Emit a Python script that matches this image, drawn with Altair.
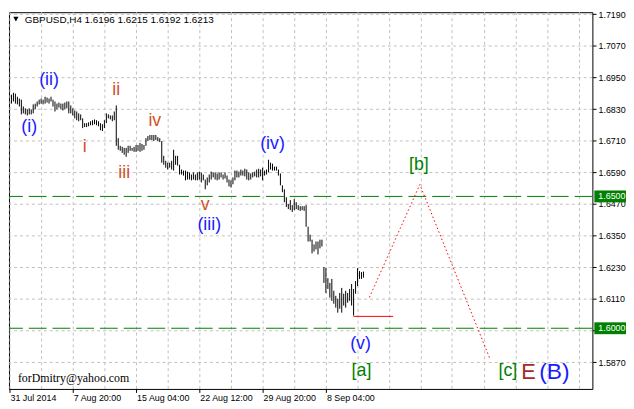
import altair as alt
import pandas as pd

# ---------------- data (GBPUSD, H4) ----------------
highs = [
    1.6886, 1.6893, 1.6890, 1.6878, 1.6871, 1.6867, 1.6841, 1.6834, 1.6830, 1.6834,
    1.6830, 1.6849, 1.6852, 1.6860, 1.6867, 1.6871, 1.6867, 1.6878, 1.6875, 1.6871,
    1.6878, 1.6867, 1.6860, 1.6852, 1.6856, 1.6852, 1.6852, 1.6856, 1.6860, 1.6860,
    1.6845, 1.6834, 1.6826, 1.6822, 1.6815, 1.6811, 1.6796, 1.6778, 1.6778, 1.6781,
    1.6785, 1.6789, 1.6792, 1.6789, 1.6785, 1.6778, 1.6774, 1.6789, 1.6815, 1.6811,
    1.6807, 1.6807, 1.6822, 1.6845, 1.6721, 1.6692, 1.6688, 1.6684, 1.6684, 1.6692,
    1.6692, 1.6684, 1.6688, 1.6695, 1.6695, 1.6703, 1.6699, 1.6695, 1.6721, 1.6729,
    1.6733, 1.6733, 1.6733, 1.6733, 1.6725, 1.6721, 1.6710, 1.6654, 1.6635, 1.6628,
    1.6628, 1.6635, 1.6677, 1.6654, 1.6654, 1.6620, 1.6602, 1.6598, 1.6598, 1.6594,
    1.6591, 1.6583, 1.6591, 1.6583, 1.6591, 1.6594, 1.6591, 1.6583, 1.6564, 1.6572,
    1.6583, 1.6594, 1.6591, 1.6591, 1.6587, 1.6591, 1.6591, 1.6583, 1.6591, 1.6579,
    1.6564, 1.6561, 1.6572, 1.6598, 1.6598, 1.6594, 1.6602, 1.6598, 1.6605, 1.6602,
    1.6591, 1.6587, 1.6591, 1.6594, 1.6602, 1.6605, 1.6602, 1.6609, 1.6598, 1.6602,
    1.6639, 1.6628, 1.6624, 1.6613, 1.6613, 1.6602, 1.6587, 1.6542, 1.6527, 1.6497,
    1.6471, 1.6486, 1.6467, 1.6490, 1.6478, 1.6467, 1.6463, 1.6463, 1.6463, 1.6467,
    1.6385, 1.6355, 1.6336, 1.6318, 1.6329, 1.6329, 1.6336, 1.6336, 1.6232, 1.6228,
    1.6190, 1.6172, 1.6187, 1.6142, 1.6123, 1.6112, 1.6134, 1.6153, 1.6131, 1.6142,
    1.6134, 1.6149, 1.6168, 1.6149, 1.6179, 1.6228, 1.6217, 1.6213, 1.6215,
]
lows = [
    1.6852, 1.6860, 1.6852, 1.6849, 1.6841, 1.6811, 1.6815, 1.6811, 1.6807, 1.6811,
    1.6811, 1.6815, 1.6830, 1.6841, 1.6849, 1.6852, 1.6849, 1.6852, 1.6856, 1.6852,
    1.6860, 1.6841, 1.6822, 1.6830, 1.6837, 1.6830, 1.6826, 1.6830, 1.6834, 1.6815,
    1.6815, 1.6807, 1.6796, 1.6789, 1.6785, 1.6789, 1.6759, 1.6763, 1.6763, 1.6766,
    1.6770, 1.6770, 1.6774, 1.6770, 1.6766, 1.6751, 1.6748, 1.6759, 1.6778, 1.6796,
    1.6792, 1.6785, 1.6789, 1.6692, 1.6677, 1.6673, 1.6665, 1.6658, 1.6650, 1.6665,
    1.6673, 1.6673, 1.6669, 1.6669, 1.6673, 1.6669, 1.6673, 1.6677, 1.6692, 1.6710,
    1.6714, 1.6714, 1.6710, 1.6714, 1.6710, 1.6706, 1.6628, 1.6620, 1.6609, 1.6602,
    1.6609, 1.6602, 1.6598, 1.6620, 1.6617, 1.6583, 1.6583, 1.6579, 1.6561, 1.6564,
    1.6564, 1.6561, 1.6564, 1.6561, 1.6561, 1.6564, 1.6553, 1.6561, 1.6527, 1.6542,
    1.6553, 1.6564, 1.6572, 1.6564, 1.6561, 1.6564, 1.6572, 1.6564, 1.6568, 1.6553,
    1.6538, 1.6534, 1.6546, 1.6561, 1.6572, 1.6572, 1.6579, 1.6579, 1.6576, 1.6564,
    1.6561, 1.6564, 1.6572, 1.6576, 1.6572, 1.6572, 1.6576, 1.6561, 1.6579, 1.6583,
    1.6591, 1.6602, 1.6598, 1.6598, 1.6598, 1.6579, 1.6542, 1.6516, 1.6478, 1.6460,
    1.6452, 1.6448, 1.6441, 1.6448, 1.6452, 1.6448, 1.6445, 1.6448, 1.6445, 1.6385,
    1.6329, 1.6329, 1.6284, 1.6291, 1.6299, 1.6280, 1.6303, 1.6310, 1.6172, 1.6134,
    1.6149, 1.6116, 1.6104, 1.6093, 1.6078, 1.6059, 1.6074, 1.6059, 1.6086, 1.6078,
    1.6097, 1.6104, 1.6086, 1.6048, 1.6131, 1.6160, 1.6187, 1.6187, 1.6192,
]

x_label_pos = [-1, 31, 63, 95, 127, 159]
x_labels = ["31 Jul 2014", "7 Aug 20:00", "15 Aug 04:00", "22 Aug 12:00",
            "29 Aug 20:00", "8 Sep 04:00"]
x_grid = list(range(-1, 295, 16))
y_ticks = [1.5870, 1.5990, 1.6110, 1.6230, 1.6350, 1.6470,
           1.6590, 1.6710, 1.6830, 1.6950, 1.7070, 1.7190]

level_prices = [1.6500, 1.6000]
level_labels = ["1.6500", "1.6000"]

proj_x = [181, 206.5, 242]
proj_p = [1.6117, 1.6545, 1.5883]

base_x = [173]
base_x2 = [193]
base_p = [1.6045]

wave_text = ["(i)", "(ii)", "i", "ii", "iii", "iv", "v", "(iii)", "(iv)", "(v)",
             "[a]", "[b]", "[c]", "E", "(B)"]
wave_x = [9, 19, 37, 53, 57, 72.5, 98, 100, 132, 176.5, 177, 206, 251, 261.5, 274.5]
wave_p = [1.6763, 1.6942, 1.6688, 1.6905, 1.6587, 1.6785, 1.6467, 1.6392, 1.6699,
          1.5940, 1.5839, 1.6620, 1.5839, 1.5835, 1.5835]
BLUE, ORANGE, GREEN, BROWN = "#1a1aff", "#d2522a", "#008000", "#a52a2a"
wave_color = [BLUE, BLUE, ORANGE, ORANGE, ORANGE, ORANGE, ORANGE, BLUE, BLUE, BLUE,
              GREEN, GREEN, GREEN, BROWN, BLUE]
wave_size = [18, 18, 18, 18, 18, 18, 18, 18, 18, 18, 18, 18, 18, 22, 23]

header_text = "GBPUSD,H4  1.6196 1.6215 1.6192 1.6213"
signature = "forDmitry@yahoo.com"

# ---------------- chart ----------------
FONT = "Liberation Sans"
# 2 px per bar, 32 px per 0.0120 (same pixel scale as the reference)
xs = alt.Scale(domain=[-1.25, 293.75], nice=False, zero=False)
ys = alt.Scale(domain=[1.5769875, 1.7198625], nice=False, zero=False)

bars = pd.DataFrame({"i": list(range(len(highs))), "high": highs, "low": lows})

label_expr = "".join(f"datum.value == {v} ? '{t}' : " for v, t in zip(x_label_pos, x_labels)) + "''"
tick_test = "indexof([" + ",".join(str(v) for v in x_label_pos) + "], datum.value) >= 0"

x_axis = alt.Axis(
    values=x_grid, labelExpr=label_expr, labelAlign="left", labelOffset=1,
    labelPadding=1, tickSize=4, tickColor="black", translate=0,
    tickOpacity={"condition": {"test": tick_test, "value": 1}, "value": 0},
    grid=True, gridColor="#c0c0c0", gridDash=[3, 3], domain=False, title=None,
    labelFont=FONT, labelFontSize=9, labelColor="black", labelOverlap=False,
    labelFlush=False, labelBound=False,
)
y_axis = alt.Axis(
    orient="right", values=y_ticks, format=".4f", tickSize=4, tickColor="black",
    labelPadding=2, grid=True, gridColor="#c0c0c0", gridDash=[3, 3], domain=False,
    translate=0.2, title=None, labelFont=FONT, labelFontSize=9, labelColor="black",
    labelOverlap=False,
)


def X(field):
    return alt.X(field, scale=xs, axis=x_axis)


def Y(field):
    return alt.Y(field, scale=ys, axis=y_axis)


bar_layer = alt.Chart(bars).mark_rule(color="black", strokeWidth=1).encode(
    x=X("i:Q"), y=Y("high:Q"), y2="low:Q",
)

levels = pd.DataFrame({"p": level_prices, "lab": level_labels})
level_lines = alt.Chart(levels).mark_rule(
    color="#008000", strokeWidth=1, strokeDash=[18, 6]
).encode(y=Y("p:Q"))
level_boxes = alt.Chart(levels).mark_point(
    shape="M-1,-0.375L1,-0.375L1,0.375L-1,0.375Z", filled=True, size=1024,
    color="#008000", opacity=1, strokeWidth=0,
).encode(x=alt.value(608), y=Y("p:Q"))
level_text = alt.Chart(levels).mark_text(
    align="left", baseline="middle", color="white", font=FONT, fontSize=9
).encode(x=alt.value(596), y=Y("p:Q"), text="lab:N")

base_df = pd.DataFrame({"x": base_x, "x2": base_x2, "p": base_p})
base_line = alt.Chart(base_df).mark_rule(color="red", strokeWidth=1).encode(
    x=X("x:Q"), x2="x2:Q", y=Y("p:Q"),
)

proj_df = pd.DataFrame({"x": proj_x, "p": proj_p})
proj_line = alt.Chart(proj_df).mark_line(color="red", strokeWidth=1, strokeDash=[1.5, 2.5]).encode(
    x=X("x:Q"), y=Y("p:Q"), order="x:Q",
)

waves = pd.DataFrame({"t": wave_text, "x": wave_x, "p": wave_p,
                      "c": wave_color, "s": wave_size})
wave_layer = alt.Chart(waves).mark_text(align="center", baseline="middle", font=FONT).encode(
    x=X("x:Q"), y=Y("p:Q"),
    text="t:N", color=alt.Color("c:N", scale=None), size=alt.Size("s:Q", scale=None),
)

hdr = pd.DataFrame({"t": [header_text]})
triangle = alt.Chart(hdr).mark_point(shape="triangle-down", filled=True, color="black",
                                     size=28, opacity=1).encode(x=alt.value(7), y=alt.value(7))
header = alt.Chart(hdr).mark_text(align="left", baseline="middle", font=FONT, fontSize=10,
                                  color="black").encode(x=alt.value(16), y=alt.value(7.5), text="t:N")
sig = pd.DataFrame({"t": [signature]})
sig_layer = alt.Chart(sig).mark_text(align="left", baseline="middle", font="Liberation Serif",
                                     fontSize=12, color="black").encode(
    x=alt.value(9), y=alt.value(369.5), text="t:N")

chart = alt.layer(
    bar_layer, level_lines, base_line, proj_line, wave_layer,
    triangle, header, sig_layer, level_boxes, level_text,
).properties(width=590, height=381, padding=0, background="white").configure_view(
    stroke="black", strokeWidth=1
)

chart.save("out.html", embed_options={"renderer": "svg", "actions": False})
